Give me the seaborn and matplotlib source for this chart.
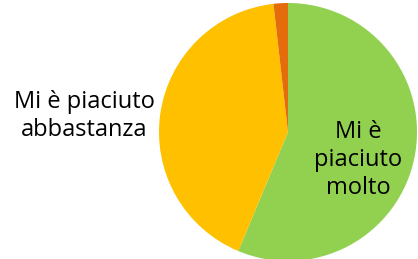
import matplotlib
matplotlib.use("Agg")
import matplotlib.pyplot as plt
import seaborn as sns

sns.set_theme(style="white")
plt.rcParams['font.family'] = ['Open Sans', 'DejaVu Sans']

labels = ["Mi è\npiaciuto\nmolto", "Mi è piaciuto\nabbastanza", ""]
values = [56.3, 41.9, 1.8]
colors = ["#92D050", "#FFC000", "#E46C0A"]

W, H = 418, 259
fig = plt.figure(figsize=(W/100, H/100), dpi=100)
cx, cy, r = 288, 132, 129
ax = fig.add_axes([(cx - r)/W, (H - cy - r)/H, 2*r/W, 2*r/H])
ax.pie(values, colors=colors, startangle=90, counterclock=False,
       radius=1.0, wedgeprops=dict(linewidth=0))
ax.set_xlim(-1, 1)
ax.set_ylim(-1, 1)
ax.set_aspect('equal')
ax.axis('off')

def px(x, y):
    return (x - cx)/r, (cy - y)/r

ax.text(*px(84, 116), labels[1], ha='center', va='center', fontsize=17,
        linespacing=1.25, color='black', clip_on=False)
ax.text(*px(358, 160), labels[0], ha='center', va='center', fontsize=17,
        linespacing=1.25, color='black', clip_on=False)

fig.savefig("out.png", dpi=100)
